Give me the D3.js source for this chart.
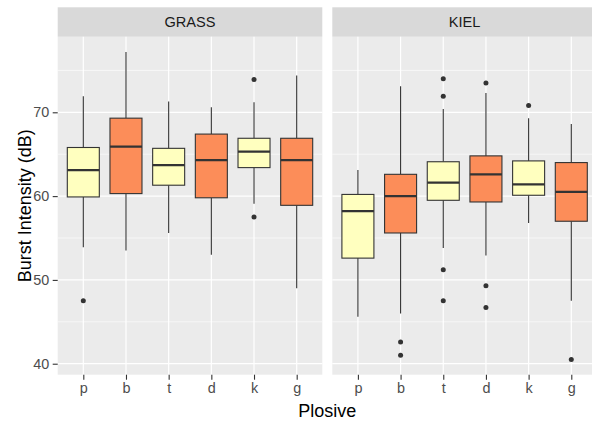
<!DOCTYPE html>
<html><head><meta charset="utf-8">
<script src="https://cdn.jsdelivr.net/npm/d3@7"></script>
<style>body{margin:0;background:#fff}svg{display:block;font-family:"Liberation Sans",Arial,sans-serif}</style>
</head><body><svg id="c" width="592" height="421"></svg>
<script>
const facets = ["GRASS", "KIEL"];
const plosives = ["p", "b", "t", "d", "k", "g"];
const voicing = ["voiceless", "voiced", "voiceless", "voiced", "voiceless", "voiced"];
const yTicks = [40, 50, 60, 70];
const yMinor = [45, 55, 65, 75];
// [lowerWhisker, Q1, median, Q3, upperWhisker]
const grassStats = [
  [53.9, 59.9, 63.1, 65.8, 71.9],
  [53.5, 60.3, 65.9, 69.3, 77.2],
  [55.6, 61.3, 63.7, 65.7, 71.3],
  [53.0, 59.8, 64.3, 67.4, 70.6],
  [59.1, 63.4, 65.3, 66.9, 71.2],
  [49.0, 58.9, 64.3, 66.9, 74.4]
];
const grassOutliers = [[47.5], [], [], [], [73.9, 57.5], []];
const kielStats = [
  [45.6, 52.6, 58.2, 60.2, 63.1],
  [46.0, 55.6, 60.0, 62.6, 73.1],
  [53.8, 59.5, 61.6, 64.1, 70.4],
  [52.9, 59.3, 62.6, 64.8, 72.3],
  [56.8, 60.1, 61.4, 64.2, 69.3],
  [47.5, 57.0, 60.5, 64.0, 68.6]
];
const kielOutliers = [[], [42.6, 41.0], [74.0, 71.9, 51.2, 47.5], [73.5, 49.3, 46.7], [70.8], [40.5]];
const fills = {voiceless: "#FFFFBF", voiced: "#FC8D59"};

const statsByFacet = [grassStats, kielStats];
const outByFacet = [grassOutliers, kielOutliers];

const svg = d3.select("#c");
const panelTop = 36.7, panelBottom = 374.7, stripTop = 7.3;
const panelW = 264.6, gap = 10;
const panelLefts = [57.7, 57.7 + panelW + gap];
const FONT = "Liberation Sans, Arial, sans-serif";

const y = d3.scaleLinear().domain([38.69, 79.02]).range([panelBottom, panelTop]);

facets.forEach((fname, fi) => {
  const x0 = panelLefts[fi];
  const x = d3.scalePoint().domain(plosives).range([x0, x0 + panelW]).padding(0.6);
  const step = x.step();
  const g = svg.append("g");
  g.append("rect").attr("x", x0).attr("y", panelTop).attr("width", panelW).attr("height", panelBottom - panelTop).attr("fill", "#EBEBEB");
  g.append("rect").attr("x", x0).attr("y", stripTop).attr("width", panelW).attr("height", panelTop - stripTop).attr("fill", "#D9D9D9");
  g.append("text").attr("x", x0 + panelW / 2).attr("y", (stripTop + panelTop) / 2).attr("dy", "0.36em")
    .attr("text-anchor", "middle").attr("font-size", 14.6).attr("fill", "#1A1A1A").text(fname);
  g.selectAll(".mn").data(yMinor).enter().append("line")
    .attr("x1", x0).attr("x2", x0 + panelW).attr("y1", d => y(d)).attr("y2", d => y(d))
    .attr("stroke", "#fff").attr("stroke-width", 0.6);
  g.selectAll(".mj").data(yTicks).enter().append("line")
    .attr("x1", x0).attr("x2", x0 + panelW).attr("y1", d => y(d)).attr("y2", d => y(d))
    .attr("stroke", "#fff").attr("stroke-width", 1.2);
  g.selectAll(".vx").data(plosives).enter().append("line")
    .attr("x1", d => x(d)).attr("x2", d => x(d)).attr("y1", panelTop).attr("y2", panelBottom)
    .attr("stroke", "#fff").attr("stroke-width", 1.2);
  const stats = statsByFacet[fi];
  const outs = outByFacet[fi];
  const bw = step * 0.75;
  plosives.forEach((p, i) => {
    const s = stats[i], cx = x(p);
    g.append("line").attr("x1", cx).attr("x2", cx).attr("y1", y(s[4])).attr("y2", y(s[3])).attr("stroke", "#333").attr("stroke-width", 1.1);
    g.append("line").attr("x1", cx).attr("x2", cx).attr("y1", y(s[1])).attr("y2", y(s[0])).attr("stroke", "#333").attr("stroke-width", 1.1);
    g.append("rect").attr("x", cx - bw / 2).attr("y", y(s[3])).attr("width", bw).attr("height", y(s[1]) - y(s[3]))
      .attr("fill", fills[voicing[i]]).attr("stroke", "#333").attr("stroke-width", 1.1);
    g.append("line").attr("x1", cx - bw / 2).attr("x2", cx + bw / 2).attr("y1", y(s[2])).attr("y2", y(s[2])).attr("stroke", "#333").attr("stroke-width", 2.2);
    g.selectAll(null).data(outs[i]).enter().append("circle").attr("cx", cx).attr("cy", d => y(d)).attr("r", 2.5).attr("fill", "#333");
  });
  const xa = g.append("g").attr("transform", `translate(0,${panelBottom})`)
    .call(d3.axisBottom(x).tickSize(5).tickPadding(3.5));
  xa.select(".domain").remove();
  xa.selectAll("line").attr("stroke", "#333").attr("stroke-width", 1.1);
  xa.selectAll("text").attr("font-size", 14.4).attr("fill", "#4D4D4D").attr("font-family", FONT);
});

const ya = svg.append("g").attr("transform", `translate(${panelLefts[0]},0)`)
  .call(d3.axisLeft(y).tickValues(yTicks).tickSize(5).tickPadding(3.5));
ya.select(".domain").remove();
ya.selectAll("line").attr("stroke", "#333").attr("stroke-width", 1.1);
ya.selectAll("text").attr("font-size", 14.4).attr("fill", "#4D4D4D").attr("font-family", FONT);

svg.append("text").attr("x", panelLefts[0] + (2 * panelW + gap) / 2).attr("y", 417).attr("text-anchor", "middle")
  .attr("font-size", 18).attr("fill", "#000").text("Plosive");
svg.append("text").attr("transform", `translate(30.5,${(panelTop + panelBottom) / 2}) rotate(-90)`).attr("text-anchor", "middle")
  .attr("font-size", 18).attr("fill", "#000").text("Burst Intensity (dB)");
</script></body></html>
